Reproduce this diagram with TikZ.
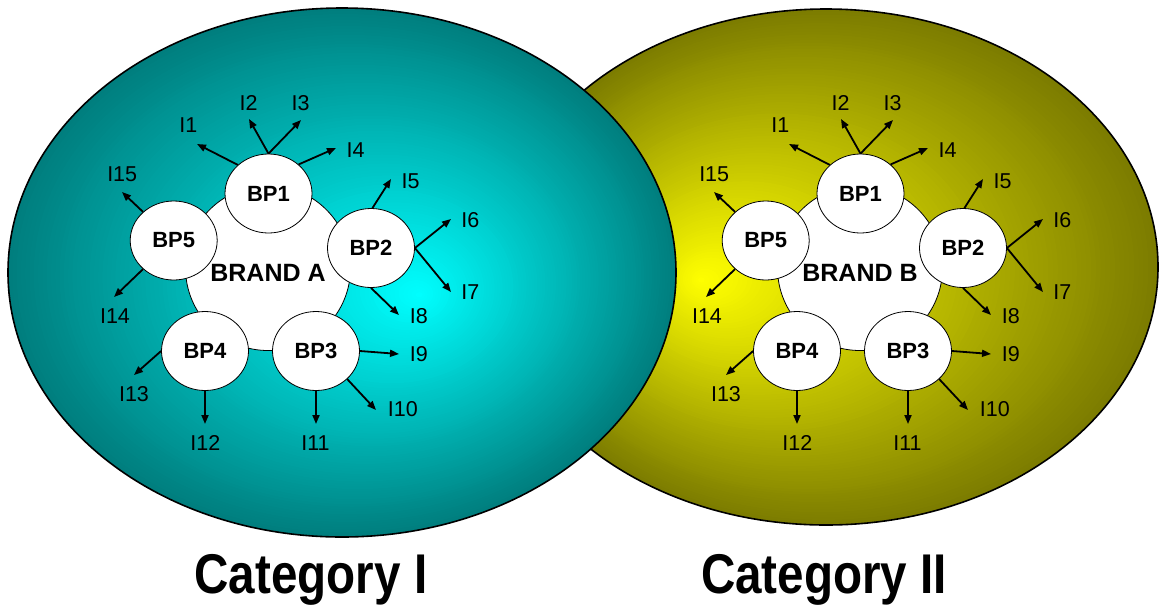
\documentclass[tikz,border=0pt]{standalone}
\usepackage{fontspec}
\usepackage{graphicx}
\setmainfont{Liberation Sans}
\usetikzlibrary{shapes.geometric,arrows.meta}

\definecolor{tealdark}{RGB}{0,126,126}
\definecolor{cyanlite}{RGB}{0,255,255}
\definecolor{olivedark}{RGB}{124,124,0}
\definecolor{yellowlite}{RGB}{255,255,0}

% path-style gradient: nested ellipses shrinking towards a focus point
% #1,#2 centre  #3,#4 radii  #5,#6 focus  #7 outer colour  #8 inner colour
\newcommand\pathglow[8]{%
  \foreach \k in {0,...,95}{%
    \pgfmathsetmacro\gfrac{1-\k/96}%
    \pgfmathtruncatemacro\gpct{round(100*\gfrac)}%
    \pgfmathsetmacro\gex{#5+\gfrac*(#1-#5)}%
    \pgfmathsetmacro\gey{#6+\gfrac*(#2-#6)}%
    \pgfmathsetmacro\gax{\gfrac*#3}%
    \pgfmathsetmacro\gay{\gfrac*#4}%
    \fill[#7!\gpct!#8] (\gex,\gey) ellipse [x radius=\gax pt, y radius=\gay pt];
  }%
}

\tikzset{
  rim/.style={draw=black, line width=1.6pt},
  brandc/.style={circle, draw=black, line width=0.8pt, fill=white,
    minimum size=165pt, inner sep=0pt},
  brandtxt/.style={font=\fontsize{25}{25}\selectfont\bfseries, inner sep=0pt},
  bp/.style={ellipse, draw=black, line width=0.8pt, fill=white,
    minimum width=87pt, minimum height=79pt, inner sep=0pt,
    font=\fontsize{22}{22}\selectfont\bfseries},
  item/.style={font=\fontsize{21.5}{21.5}\selectfont, inner sep=0pt},
  link/.style={line width=1.8pt, -{Triangle[length=9pt,width=7pt]}},
  cat/.style={font=\fontsize{56}{56}\selectfont\bfseries, inner sep=0pt, anchor=base}
}

% one brand with its five brand properties and fifteen items
\newcommand\brandcluster[2]{%
  \node[brandc] (#1brand) at (268,268) {};
  \node[bp] (#1bp1) at (268.5,193.5) {BP1};
  \node[bp] (#1bp2) at (371,248) {BP2};
  \node[bp] (#1bp3) at (316,351) {BP3};
  \node[bp] (#1bp4) at (205,351) {BP4};
  \node[bp] (#1bp5) at (173.7,240.5) {BP5};
  \node[brandtxt] (#1name) at (268,273) {#2};
  % item labels
  \node[item] (#1i1)  at (188.3,125.3) {I1};
  \node[item] (#1i2)  at (248.7,102.8) {I2};
  \node[item] (#1i3)  at (300.5,102.8) {I3};
  \node[item] (#1i4)  at (355.5,149.7) {I4};
  \node[item] (#1i5)  at (410.7,181.7) {I5};
  \node[item] (#1i6)  at (470.4,220.4) {I6};
  \node[item] (#1i7)  at (470.4,292)   {I7};
  \node[item] (#1i8)  at (418.8,315.8) {I8};
  \node[item] (#1i9)  at (418.8,354)   {I9};
  \node[item] (#1i10) at (402.8,409.5) {I10};
  \node[item] (#1i11) at (315.5,443)   {I11};
  \node[item] (#1i12) at (205.3,443)   {I12};
  \node[item] (#1i13) at (134,394.3)   {I13};
  \node[item] (#1i14) at (115,315.8)   {I14};
  \node[item] (#1i15) at (122.2,173.8) {I15};
  % arrow tips
  \coordinate (#1t1)  at (197,144);
  \coordinate (#1t2)  at (249,119);
  \coordinate (#1t3)  at (301,120);
  \coordinate (#1t4)  at (336,148);
  \coordinate (#1t5)  at (391,179);
  \coordinate (#1t6)  at (451,219);
  \coordinate (#1t7)  at (451,292);
  \coordinate (#1t8)  at (399,315);
  \coordinate (#1t9)  at (399,354);
  \coordinate (#1t10) at (376,410);
  \coordinate (#1t11) at (316,424);
  \coordinate (#1t12) at (205,424);
  \coordinate (#1t13) at (134,375);
  \coordinate (#1t14) at (114,297);
  \coordinate (#1t15) at (122,192);
  % arrows
  \draw[link] (#1bp1.137)   -- (#1t1);
  \draw[link] (#1bp1.north) -- (#1t2);
  \draw[link] (#1bp1.north) -- (#1t3);
  \draw[link] (#1bp1.44)    -- (#1t4);
  \draw[link] (#1bp2.88)    -- (#1t5);
  \draw[link] (#1bp2.east)  -- (#1t6);
  \draw[link] (#1bp2.east)  -- (#1t7);
  \draw[link] (#1bp2.south) -- (#1t8);
  \draw[link] (#1bp3.east)  -- (#1t9);
  \draw[link] (#1bp3.-42)   -- (#1t10);
  \draw[link] (#1bp3.south) -- (#1t11);
  \draw[link] (#1bp4.south) -- (#1t12);
  \draw[link] (#1bp4.west)  -- (#1t13);
  \draw[link] (#1bp5.223)   -- (#1t14);
  \draw[link] (#1bp5.137)   -- (#1t15);
}

\begin{document}
\begin{tikzpicture}[x=1pt, y=-1pt]
  \useasboundingbox (0,0) rectangle (1159,606);
  \fill[white] (0,0) rectangle (1159,606);

  % Category II (behind)
  \pathglow{826}{267}{332}{258}{700}{280}{olivedark}{yellowlite}
  \draw[rim] (826,267) ellipse [x radius=332pt, y radius=258pt];

  % Category I (in front)
  \pathglow{342}{272.5}{334}{264.5}{420}{295}{tealdark}{cyanlite}
  \draw[rim] (342,272.5) ellipse [x radius=334pt, y radius=264.5pt];

  \brandcluster{A}{BRAND A}
  \begin{scope}[shift={(592,0)}]
    \brandcluster{B}{BRAND B}
  \end{scope}

  \node[cat] (catA) at (311,593) {\scalebox{0.85}[1]{Category I}};
  \node[cat] (catB) at (824,593) {\scalebox{0.85}[1]{Category II}};
\end{tikzpicture}
\end{document}
